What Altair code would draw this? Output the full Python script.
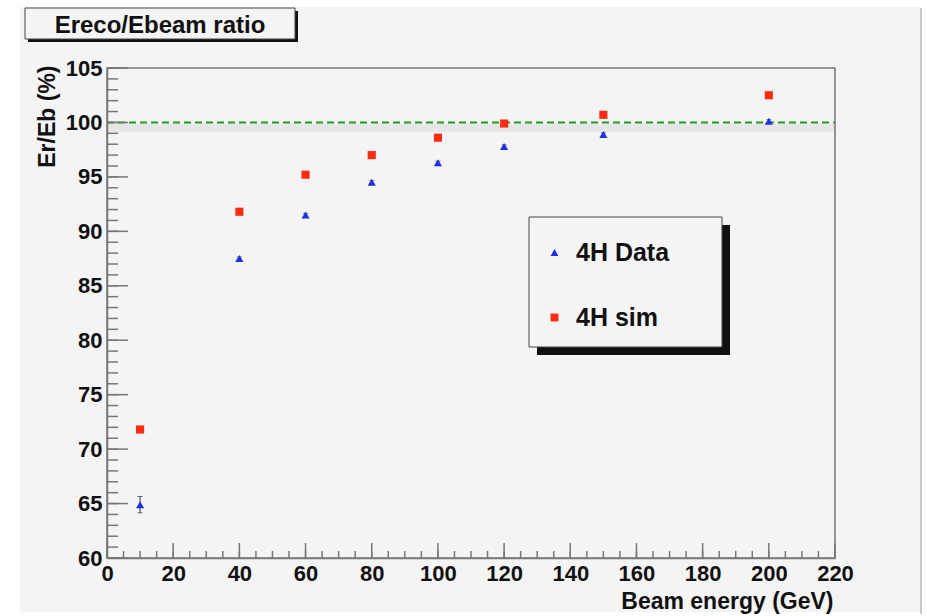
import altair as alt
import pandas as pd

# ---- data ----
energy = [10, 40, 60, 80, 100, 120, 150, 200]
data_ratio = [64.9, 87.5, 91.5, 94.5, 96.3, 97.8, 98.9, 100.1]
data_err = [0.75, 0.15, 0.15, 0.15, 0.15, 0.15, 0.15, 0.15]
sim_ratio = [71.8, 91.8, 95.2, 97.0, 98.6, 99.9, 100.7, 102.5]
series_names = ["4H Data", "4H sim"]
series_colors = ["#1f2fe6", "#ff2a12"]
series_shapes = ["triangle-up", "square"]

x_major = list(range(0, 221, 20))
x_minor = list(range(0, 221, 5))
y_major = list(range(60, 106, 5))
y_minor = list(range(60, 106, 1))
ref_level = [100.0]
title_text = "Ereco/Ebeam ratio"
x_title = "Beam energy (GeV)"
y_title = "Er/Eb (%)"

W, H = 728, 490
FONT = "Liberation Sans"
AX = "#777777"

rows = []
for e, v in zip(energy, data_ratio):
    rows.append({"energy": e, "ratio": v, "series": series_names[0]})
for e, v in zip(energy, sim_ratio):
    rows.append({"energy": e, "ratio": v, "series": series_names[1]})
df = pd.DataFrame(rows)
df_err = pd.DataFrame({
    "energy": energy,
    "lo": [v - e for v, e in zip(data_ratio, data_err)],
    "hi": [v + e for v, e in zip(data_ratio, data_err)],
})

xs = alt.Scale(domain=[0, 220], nice=False, zero=False)
ys = alt.Scale(domain=[60, 105], nice=False, zero=False)
one = pd.DataFrame({"a": [0]})

axis_common = dict(
    labelFont=FONT, labelFontWeight="bold", labelFontSize=22, labelColor="#111111",
    titleFont=FONT, titleFontWeight="bold", titleFontSize=23, titleColor="#111111",
    domainColor=AX, domainWidth=1.5, ticks=False, grid=False,
    labelFlush=False, labelOverlap=False, zindex=1)
x_axis = alt.Axis(values=x_major, title=x_title, labelPadding=5,
                  titleX=W - 2, titleY=50, titleAlign="right", titleBaseline="alphabetic",
                  **axis_common)
y_axis = alt.Axis(values=y_major, title=y_title, labelPadding=5,
                  titleX=-60, titleY=-3, titleAngle=270, titleAlign="right",
                  titleBaseline="middle", **axis_common)


def X(field):
    return alt.X(field, scale=xs, axis=x_axis)


def Y(field):
    return alt.Y(field, scale=ys, axis=y_axis)


# background panel (light gray) with white margin outside
panel = alt.Chart(one).mark_rect(color="#f4f4f4").encode(
    x=alt.value(-87), x2=alt.value(813), y=alt.value(-61), y2=alt.value(544))
panel_edge = alt.Chart(one).mark_rule(color="#c8c8c8", strokeWidth=2).encode(
    x=alt.value(814), y=alt.value(-60), y2=alt.value(546))

# title box
t_shadow = alt.Chart(one).mark_rect(color="#111111").encode(
    x=alt.value(-79), x2=alt.value(191), y=alt.value(-57), y2=alt.value(-26))
t_box = alt.Chart(one).mark_rect(fill="#f4f4f4", stroke="#444444", strokeWidth=1).encode(
    x=alt.value(-82), x2=alt.value(188), y=alt.value(-60), y2=alt.value(-29))
t_text = alt.Chart(one).mark_text(
    text=title_text, font=FONT, fontWeight="bold", fontSize=24, color="#111111",
    align="center", baseline="alphabetic").encode(x=alt.value(53), y=alt.value(-35))

# legend box
l_shadow = alt.Chart(one).mark_rect(color="#111111").encode(
    x=alt.value(430), x2=alt.value(623), y=alt.value(157), y2=alt.value(287))
l_box = alt.Chart(one).mark_rect(fill="#f4f4f4", stroke="#444444", strokeWidth=1).encode(
    x=alt.value(422), x2=alt.value(615), y=alt.value(149), y2=alt.value(279))

# reference line at 100 with soft shadow band
band = alt.Chart(pd.DataFrame({"v": ref_level})).transform_calculate(
    lo="datum.v - 0.85", hi="datum.v - 0.1").mark_rect(color="#e6e6e6").encode(
    y=Y("lo:Q"), y2="hi:Q", x=alt.value(0), x2=alt.value(W))
ref = alt.Chart(pd.DataFrame({"v": ref_level})).mark_rule(
    color="#1e9e1e", strokeDash=[7, 4], strokeWidth=2).encode(
    y=Y("v:Q"), x=alt.value(0), x2=alt.value(W))

# frame
frame = alt.Chart(one).mark_rect(fillOpacity=0, stroke=AX, strokeWidth=1.5).encode(
    x=alt.value(0), x2=alt.value(W), y=alt.value(0), y2=alt.value(H))

# inward ticks
ymaj = alt.Chart(pd.DataFrame({"v": y_major})).mark_rule(color=AX, strokeWidth=1.5).encode(
    y=Y("v:Q"), x=alt.value(0), x2=alt.value(21))
ymin = alt.Chart(pd.DataFrame({"v": y_minor})).mark_rule(color=AX, strokeWidth=1.5).encode(
    y=Y("v:Q"), x=alt.value(0), x2=alt.value(11))
xmaj = alt.Chart(pd.DataFrame({"v": x_major})).mark_rule(color=AX, strokeWidth=1.5).encode(
    x=X("v:Q"), y=alt.value(H), y2=alt.value(H - 15))
xmin = alt.Chart(pd.DataFrame({"v": x_minor})).mark_rule(color=AX, strokeWidth=1.5).encode(
    x=X("v:Q"), y=alt.value(H), y2=alt.value(H - 7))

# error bars
err = alt.Chart(df_err).mark_rule(color="#333366", strokeWidth=1).encode(
    x=X("energy:Q"), y=Y("lo:Q"), y2="hi:Q")
cap_lo = alt.Chart(df_err).mark_tick(color="#333333", orient="horizontal", size=5, thickness=1).encode(
    x=X("energy:Q"), y=Y("lo:Q"))
cap_hi = alt.Chart(df_err).mark_tick(color="#333333", orient="horizontal", size=5, thickness=1).encode(
    x=X("energy:Q"), y=Y("hi:Q"))

points = alt.Chart(df).mark_point(filled=True, size=66, opacity=1).encode(
    x=X("energy:Q"),
    y=Y("ratio:Q"),
    color=alt.Color("series:N", scale=alt.Scale(domain=series_names, range=series_colors),
                    legend=alt.Legend(
                        orient="none", legendX=435, legendY=172, title=None,
                        labelFont=FONT, labelFontWeight="bold", labelFontSize=25,
                        labelColor="#111111", labelOffset=9, rowPadding=39,
                        symbolSize=62, symbolStrokeWidth=0, zindex=1)),
    shape=alt.Shape("series:N", scale=alt.Scale(domain=series_names, range=series_shapes)),
)

chart = alt.layer(
    panel, panel_edge, t_shadow, t_box, t_text, l_shadow, l_box,
    band, ref, ymin, ymaj, xmin, xmaj, err, cap_lo, cap_hi, points, frame,
).properties(
    width=W, height=H,
    padding={"left": 107, "top": 68, "right": 92, "bottom": 58},
    autosize=alt.AutoSizeParams(type="none"),
    background="white",
).configure_view(stroke=None)

chart.save("out.html", embed_options={"renderer": "svg", "actions": False})
